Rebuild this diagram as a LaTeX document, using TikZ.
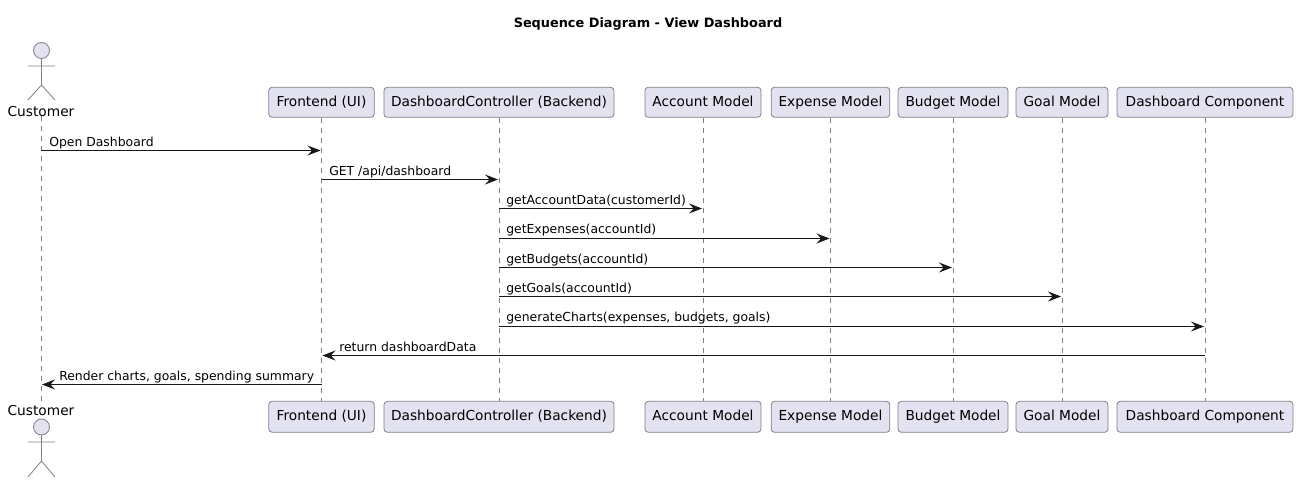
\documentclass[tikz,border=0pt]{standalone}
\usepackage{fontspec}
\setmainfont{DejaVu Sans}
\usetikzlibrary{arrows.meta}
\definecolor{boxfill}{HTML}{E2E2F0}
\definecolor{boxline}{HTML}{7F7F8A}
\definecolor{inkline}{HTML}{181818}
\newcommand{\partfont}{\fontsize{10.3pt}{12pt}\selectfont}
\newcommand{\msgfont}{\fontsize{9.3pt}{11pt}\selectfont}
\newcommand{\titlefont}{\fontsize{9.65pt}{11pt}\selectfont\bfseries}
\tikzset{
  partbox/.style={draw=boxline,fill=boxfill,rounded corners=2.5pt,line width=0.6pt,minimum height=22.5pt,inner sep=0pt,text=black,font=\partfont,text height=7.8pt,text depth=2.2pt},
  partboxlow/.style={partbox,minimum height=23.25pt},
  actorname/.style={inner sep=0pt,text=black,font=\partfont},
  lifeline/.style={draw=boxline,line width=0.6pt,dash pattern=on 3.75pt off 3.75pt},
  stick/.style={draw=boxline,line width=0.6pt},
  msg/.style={draw=inkline,line width=0.75pt,shorten >=0.75pt,-{Stealth[length=9.75pt,width=7.5pt,inset=3.5pt]}},
  msglabel/.style={inner sep=0pt,anchor=base west,text=black,font=\msgfont},
}
\begin{document}
\begin{tikzpicture}[x=0.75pt,y=-0.75pt]
  \useasboundingbox (0,0) rectangle (1297,482);
  \node[inner sep=0pt,font=\titlefont] (title) at (648,24) {Sequence Diagram - View Dashboard};

  % actor, top and bottom
  \node[actorname] (custtop) at (41,111) {Customer};
  \node[actorname] (custbot) at (41,410) {Customer};
  \draw[stick,fill=boxfill] (41.5,50.5) circle (8);
  \draw[stick] (41.5,58.5) -- (41.5,85) (28,66) -- (55,66) (28,100) -- (41.5,85) -- (55,100);
  \draw[stick,fill=boxfill] (41.5,427) circle (8);
  \draw[stick] (41.5,435) -- (41.5,461) (28,442) -- (55,442) (28,477) -- (41.5,461) -- (55,477);

  % participants
  \node[partbox,minimum width=79pt] (fronttop) at (321.5,102.3) {Frontend (UI)};
  \node[partbox,minimum width=172.5pt] (ctrltop) at (499,102.3) {DashboardController (Backend)};
  \node[partbox,minimum width=87pt] (accttop) at (703,102.3) {Account Model};
  \node[partbox,minimum width=89pt] (exptop) at (830.5,102.3) {Expense Model};
  \node[partbox,minimum width=82.5pt] (budgtop) at (953,102.3) {Budget Model};
  \node[partbox,minimum width=69pt] (goaltop) at (1062,102.3) {Goal Model};
  \node[partbox,minimum width=132pt] (dashtop) at (1205,102.3) {Dashboard Component};

  \node[partboxlow,minimum width=79pt] (frontbot) at (321.5,416.8) {Frontend (UI)};
  \node[partboxlow,minimum width=172.5pt] (ctrlbot) at (499,416.8) {DashboardController (Backend)};
  \node[partboxlow,minimum width=87pt] (acctbot) at (703,416.8) {Account Model};
  \node[partboxlow,minimum width=89pt] (expbot) at (830.5,416.8) {Expense Model};
  \node[partboxlow,minimum width=82.5pt] (budgbot) at (953,416.8) {Budget Model};
  \node[partboxlow,minimum width=69pt] (goalbot) at (1062,416.8) {Goal Model};
  \node[partboxlow,minimum width=132pt] (dashbot) at (1205,416.8) {Dashboard Component};

  % lifelines
  \draw[lifeline] (custtop.south) -- (custbot.north);
  \foreach \who in {front,ctrl,acct,exp,budg,goal,dash}
    \draw[lifeline] (\who top.south) -- (\who bot.north);

  % messages
  \draw[msg] (custtop.south |- 0,150.5) -- (fronttop.south |- 0,150.5);
  \node[msglabel] (m1) at (49,146) {Open Dashboard};
  \draw[msg] (fronttop.south |- 0,179.5) -- (ctrltop.south |- 0,179.5);
  \node[msglabel] (m2) at (329,175) {GET /api/dashboard};
  \draw[msg] (ctrltop.south |- 0,208.5) -- (accttop.south |- 0,208.5);
  \node[msglabel] (m3) at (506,204) {getAccountData(customerId)};
  \draw[msg] (ctrltop.south |- 0,238.5) -- (exptop.south |- 0,238.5);
  \node[msglabel] (m4) at (506,233) {getExpenses(accountId)};
  \draw[msg] (ctrltop.south |- 0,267.5) -- (budgtop.south |- 0,267.5);
  \node[msglabel] (m5) at (506,263) {getBudgets(accountId)};
  \draw[msg] (ctrltop.south |- 0,296.5) -- (goaltop.south |- 0,296.5);
  \node[msglabel] (m6) at (506,292) {getGoals(accountId)};
  \draw[msg] (ctrltop.south |- 0,326.5) -- (dashtop.south |- 0,326.5);
  \node[msglabel] (m7) at (506,321) {generateCharts(expenses, budgets, goals)};
  \draw[msg] (dashtop.south |- 0,355.5) -- (fronttop.south |- 0,355.5);
  \node[msglabel] (m8) at (339,351) {return dashboardData};
  \draw[msg] (fronttop.south |- 0,384.5) -- (custtop.south |- 0,384.5);
  \node[msglabel] (m9) at (59,380) {Render charts, goals, spending summary};
\end{tikzpicture}
\end{document}
